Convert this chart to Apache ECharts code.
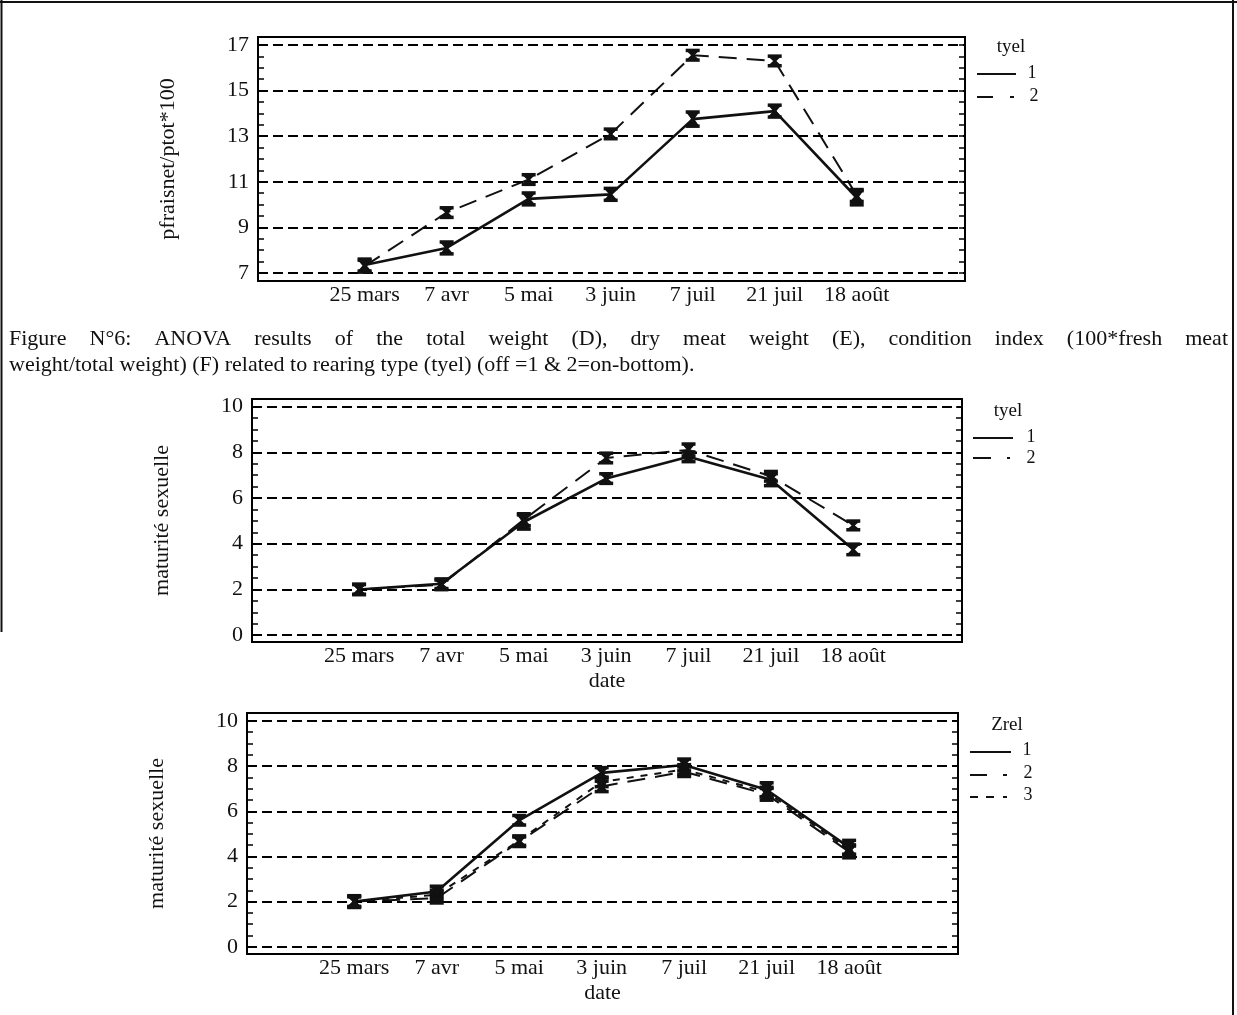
<!DOCTYPE html>
<html><head><meta charset="utf-8">
<script src="https://cdn.jsdelivr.net/npm/echarts@6/dist/echarts.min.js"></script>
<style>html,body{margin:0;padding:0;background:#fff}#c{width:1237px;height:1015px}</style>
</head><body><div id="c"></div>
<script>
// ---------- data ----------
const dates = ['25 mars', '7 avr', '5 mai', '3 juin', '7 juil', '21 juil', '18 août'];
const xLabelPos = [0, 1, 2, 3, 4, 5, 6];

// Chart 1 : pfraisnet/ptot*100 by tyel
const topTyel1 = [7.35, 8.1, 10.25, 10.45, 13.75, 14.1, 10.3];
const topTyel1Err = [0.25, 0.25, 0.25, 0.25, 0.3, 0.25, 0.3];
const topTyel2 = [7.3, 9.65, 11.1, 13.1, 16.55, 16.3, 10.4];
const topTyel2Err = [0.25, 0.2, 0.2, 0.2, 0.2, 0.2, 0.25];
const topLabels = [7, 9, 11, 13, 15, 17];
const topMinor = [7, 7.5, 8, 8.5, 9, 9.5, 10, 10.5, 11, 11.5, 12, 12.5, 13, 13.5, 14, 14.5, 15, 15.5, 16, 16.5, 17];

// Chart 2 : maturité sexuelle by tyel
const midTyel1 = [2.0, 2.25, 4.95, 6.85, 7.8, 6.8, 3.75];
const midTyel1Err = [0.22, 0.2, 0.3, 0.2, 0.2, 0.25, 0.22];
const midTyel2 = [2.0, 2.2, 5.05, 7.75, 8.1, 6.95, 4.8];
const midTyel2Err = [0.2, 0.2, 0.25, 0.2, 0.25, 0.2, 0.18];

// Chart 3 : maturité sexuelle by Zrel
const botZrel1 = [2.0, 2.45, 5.6, 7.7, 8.05, 6.95, 4.4];
const botZrel1Err = [0.25, 0.22, 0.2, 0.22, 0.25, 0.3, 0.3];
const botZrel2 = [2.0, 2.15, 4.65, 7.1, 7.75, 6.75, 4.2];
const botZrel2Err = [0.22, 0.2, 0.2, 0.22, 0.2, 0.25, 0.25];
const botZrel3 = [2.0, 2.3, 4.7, 7.3, 7.85, 6.85, 4.3];
const botZrel3Err = [0.2, 0.2, 0.2, 0.2, 0.2, 0.2, 0.2];

const matLabels = [0, 2, 4, 6, 8, 10];
const matMinor = [0, 0.5, 1, 1.5, 2, 2.5, 3, 3.5, 4, 4.5, 5, 5.5, 6, 6.5, 7, 7.5, 8, 8.5, 9, 9.5, 10];

// ---------- styling ----------
const FONT = "'Liberation Serif', 'DejaVu Serif', serif";
const INK = '#111';
const grids = [
  { left: 258, top: 37, width: 707, height: 244, ymin: 6.65, ymax: 17.35, labels: topLabels, minor: topMinor, yname: 'pfraisnet/ptot*100', xname: '' },
  { left: 252, top: 399, width: 710, height: 243, ymin: -0.3, ymax: 10.33, labels: matLabels, minor: matMinor, yname: 'maturité sexuelle', xname: 'date' },
  { left: 247, top: 713, width: 711, height: 241, ymin: -0.32, ymax: 10.35, labels: matLabels, minor: matMinor, yname: 'maturité sexuelle', xname: 'date' }
];
const XMIN = -1.3, XMAX = 7.32;

const pairs = a => a.map((v, i) => [i, v]);
const triples = (a, e) => a.map((v, i) => [i, v, e[i]]);

function errRender(params, api) {
  const x = api.value(0), v = api.value(1), e = api.value(2);
  const t = api.coord([x, v + e]), b = api.coord([x, v - e]), m = api.coord([x, v]);
  const w = 6.5;
  return {
    type: 'group', children: [
      { type: 'polygon', shape: { points: [[t[0] - w, t[1]], [t[0] + w, t[1]], [m[0] + 1.6, m[1]], [b[0] + w, b[1]], [b[0] - w, b[1]], [m[0] - 1.6, m[1]]] }, style: { fill: INK } },
      { type: 'rect', shape: { x: t[0] - w - 0.5, y: t[1] - 2, width: 2 * w + 1, height: 3.5 }, style: { fill: INK } },
      { type: 'rect', shape: { x: b[0] - w - 0.5, y: b[1] - 1.5, width: 2 * w + 1, height: 3.5 }, style: { fill: INK } },
      { type: 'rect', shape: { x: m[0] - 1.5, y: t[1], width: 3, height: b[1] - t[1] }, style: { fill: INK } }
    ]
  };
}

const xAxes = [], yAxes = [], gridOpts = [];
grids.forEach((g, gi) => {
  gridOpts.push({ left: g.left, top: g.top, width: g.width, height: g.height, show: true, borderWidth: 2, borderColor: '#000', backgroundColor: 'transparent' });
  xAxes.push({
    type: 'value', gridIndex: gi, min: XMIN, max: XMAX, position: 'bottom',
    name: g.xname, nameLocation: 'middle', nameGap: 28,
    nameTextStyle: { fontFamily: FONT, fontSize: 22, color: INK },
    axisLine: { show: false, onZero: false }, axisTick: { show: false }, splitLine: { show: false },
    axisLabel: { customValues: xLabelPos, formatter: v => dates[Math.round(v)] || '', fontFamily: FONT, fontSize: 22, color: INK, margin: 3 }
  });
  yAxes.push({
    type: 'value', gridIndex: gi, position: 'left', min: g.ymin, max: g.ymax,
    name: g.yname, nameLocation: 'middle', nameGap: 79,
    nameTextStyle: { fontFamily: FONT, fontSize: 22, color: INK },
    axisLine: { show: false, onZero: false }, splitLine: { show: false },
    axisTick: { show: true, inside: true, length: 6, customValues: g.minor, lineStyle: { color: '#000', width: 1.5 } },
    axisLabel: { customValues: g.labels, fontFamily: FONT, fontSize: 22, color: INK, margin: 9 }
  });
  yAxes.push({
    type: 'value', gridIndex: gi, position: 'right', min: g.ymin, max: g.ymax,
    axisLine: { show: false, onZero: false }, splitLine: { show: false }, axisLabel: { show: false },
    axisTick: { show: true, inside: true, length: 6, customValues: g.minor, lineStyle: { color: '#000', width: 1.5 } }
  });
});

const DASH2 = [18, 10];
const DASH3 = [7, 7];
function lineSeries(gi, data, dash, width, labels) {
  const s = {
    type: 'line', xAxisIndex: gi, yAxisIndex: gi * 2, data: pairs(data),
    symbol: 'none', silent: true, z: 3,
    lineStyle: { color: INK, width: width, type: dash || 'solid' }
  };
  if (labels) {
    s.markLine = {
      silent: true, symbol: ['none', 'none'], label: { show: false },
      lineStyle: { color: '#000', width: 2, type: [10, 5] },
      data: labels.map(v => ({ yAxis: v }))
    };
  }
  return s;
}
function errSeries(gi, data, err) {
  return {
    type: 'custom', xAxisIndex: gi, yAxisIndex: gi * 2, data: triples(data, err),
    renderItem: errRender, encode: { x: 0, y: 1 }, silent: true, z: 5
  };
}

const series = [
  lineSeries(0, topTyel1, null, 2.6, topLabels), lineSeries(0, topTyel2, DASH2, 2),
  errSeries(0, topTyel1, topTyel1Err), errSeries(0, topTyel2, topTyel2Err),
  lineSeries(1, midTyel1, null, 2.6, matLabels), lineSeries(1, midTyel2, DASH2, 2),
  errSeries(1, midTyel1, midTyel1Err), errSeries(1, midTyel2, midTyel2Err),
  lineSeries(2, botZrel1, null, 2.6, matLabels), lineSeries(2, botZrel2, DASH2, 2), lineSeries(2, botZrel3, DASH3, 2),
  errSeries(2, botZrel1, botZrel1Err), errSeries(2, botZrel2, botZrel2Err), errSeries(2, botZrel3, botZrel3Err)
];

// ---------- legends, caption, page borders ----------
const graphic = [];
function txt(x, y, s, size, align) {
  graphic.push({ type: 'text', x: x, y: y, silent: true,
    style: { text: s, fontFamily: FONT, fontSize: size, fill: INK, align: align || 'center', verticalAlign: 'middle', textAlign: align || 'center', textVerticalAlign: 'middle' } });
}
function seg(x1, y1, x2, y2, w) {
  graphic.push({ type: 'line', silent: true, shape: { x1: x1, y1: y1, x2: x2, y2: y2 }, style: { stroke: INK, lineWidth: w || 2 } });
}
// legend 1
txt(1011, 47, 'tyel', 19); seg(977, 74, 1016, 74); txt(1032, 73, '1', 18);
seg(977, 97, 993, 97); seg(1010, 97, 1014, 97); txt(1034, 96, '2', 18);
// legend 2
txt(1008, 411, 'tyel', 19); seg(973, 438, 1013, 438); txt(1031, 437, '1', 18);
seg(973, 458, 991, 458); seg(1007, 458, 1010, 458); txt(1031, 458, '2', 18);
// legend 3
txt(1007, 725, 'Zrel', 19); seg(970, 752, 1011, 752); txt(1027, 750, '1', 18);
seg(970, 775, 987, 775); seg(1003, 775, 1007, 775); txt(1028, 773, '2', 18);
seg(970, 797, 978, 797); seg(986, 797, 994, 797); seg(1003, 797, 1007, 797); txt(1028, 795, '3', 18);

// caption (first line justified)
const capLine1 = 'Figure N°6: ANOVA results of the total weight (D), dry meat weight (E), condition index (100*fresh meat';
const capLine2 = 'weight/total weight) (F) related to rearing type (tyel) (off =1 & 2=on-bottom).';
const CAP_SIZE = 22;
(function () {
  const ctx = document.createElement('canvas').getContext('2d');
  ctx.font = CAP_SIZE + 'px ' + FONT;
  const words = capLine1.split(' ');
  const widths = words.map(w => ctx.measureText(w).width);
  const sum = widths.reduce((a, b) => a + b, 0);
  const x0 = 9, x1 = 1228;
  const gap = (x1 - x0 - sum) / (words.length - 1);
  let x = x0;
  words.forEach((w, i) => { txt(x, 339, w, CAP_SIZE, 'left'); x += widths[i] + gap; });
  txt(x0, 365, capLine2, CAP_SIZE, 'left');
})();

// page borders of the scanned page
seg(0, 2, 1237, 2, 2);
seg(1.5, 0, 1.5, 632, 2);
seg(1233, 0, 1233, 1015, 2);

const chart = echarts.init(document.getElementById('c'), null, { renderer: 'canvas' });
chart.setOption({
  animation: false,
  backgroundColor: '#fff',
  grid: gridOpts,
  xAxis: xAxes,
  yAxis: yAxes,
  series: series,
  graphic: graphic
});
</script>
</body></html>
